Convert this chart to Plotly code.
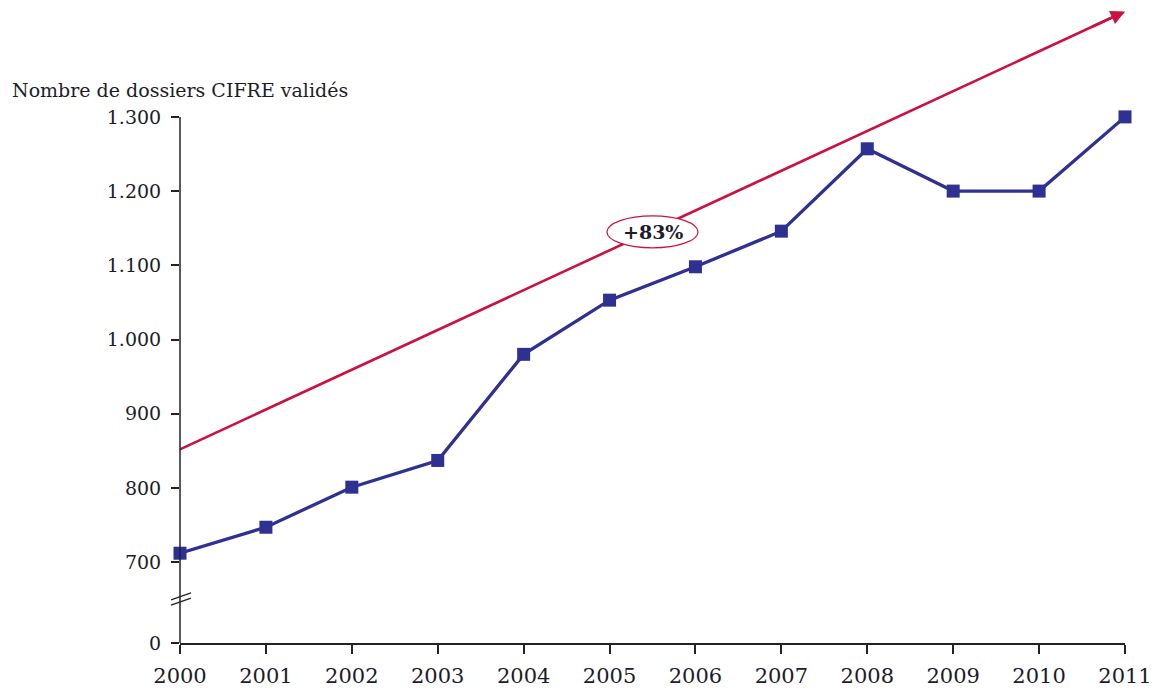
import plotly.graph_objects as go

# ---- data ----
years = [2000, 2001, 2002, 2003, 2004, 2005, 2006, 2007, 2008, 2009, 2010, 2011]
dossiers = [712, 747, 801, 837, 980, 1053, 1098, 1146, 1257, 1200, 1200, 1300]

trend_years = [2000, 2011]
trend_values = [852, 1442]
trend_label = "+83%"

y_title = "Nombre de dossiers CIFRE validés"
# broken axis: the "0" tick is drawn at a compressed position below 700
zero_display = 591
y_tickvals = [zero_display, 700, 800, 900, 1000, 1100, 1200, 1300]
y_ticktext = ["0", "700", "800", "900", "1.000", "1.100", "1.200", "1.300"]

BLUE = "#2e3192"
RED = "#cc1040"
TXT = "#1c1c2a"
FONT = "DejaVu Serif"

PLOT_W = 945  # pixel width of plotting area

fig = go.Figure()

fig.add_trace(go.Scatter(
    x=trend_years, y=trend_values, mode="lines",
    line=dict(color=RED, width=2.6), hoverinfo="skip", cliponaxis=False,
))
fig.add_trace(go.Scatter(
    x=years, y=dossiers, mode="lines+markers",
    line=dict(color=BLUE, width=3.3),
    marker=dict(symbol="square", size=13, color=BLUE),
    cliponaxis=False,
))

# arrow head at end of trend line
dx = 0.4
slope = (trend_values[1] - trend_values[0]) / (trend_years[1] - trend_years[0])
fig.add_annotation(
    x=trend_years[1], y=trend_values[1],
    ax=trend_years[1] - dx, ay=trend_values[1] - slope * dx,
    xref="x", yref="y", axref="x", ayref="y",
    showarrow=True, arrowhead=2, arrowsize=1.1, arrowwidth=2.6, arrowcolor=RED, text="",
)

# ellipse with label on trend line
cx, half_w, half_h = 2005.5, 0.53, 21.5
cy = trend_values[0] + slope * (cx - trend_years[0]) - 2
fig.add_shape(type="circle", xref="x", yref="y",
              x0=cx - half_w, x1=cx + half_w, y0=cy - half_h, y1=cy + half_h,
              line=dict(color=RED, width=1.2), fillcolor="white", layer="above")
fig.add_annotation(x=cx, y=cy, xref="x", yref="y", text="<b>" + trend_label + "</b>",
                   showarrow=False, font=dict(family=FONT, size=19, color=TXT))

# y axis line (only up to 1.300)
fig.add_shape(type="line", xref="paper", yref="y", x0=0, x1=0,
              y0=zero_display, y1=y_tickvals[-1], line=dict(color="#222", width=1.5))
# axis break marks
for off in (0, -7):
    fig.add_shape(type="line", xref="paper", yref="y",
                  x0=-9 / PLOT_W, x1=11 / PLOT_W,
                  y0=649 + off, y1=658.5 + off, line=dict(color="#222", width=1.3))

# y title
fig.add_annotation(x=-170 / PLOT_W, y=1300 + 36, xref="paper", yref="y",
                   yanchor="middle", xanchor="left",
                   text=y_title, showarrow=False,
                   font=dict(family=FONT, size=19, color=TXT))

fig.update_layout(
    width=1159, height=689,
    margin=dict(l=172, r=42, t=5, b=54),
    paper_bgcolor="white", plot_bgcolor="white",
    showlegend=False,
    xaxis=dict(
        range=[2000, 2011], tickvals=years, ticktext=[str(y) for y in years],
        showgrid=False, zeroline=False, showline=True, linecolor="#222", linewidth=1.5,
        ticks="outside", ticklen=9, tickwidth=1.5, tickcolor="#222",
        tickfont=dict(family=FONT, size=21, color=TXT), ticklabelstandoff=4,
    ),
    yaxis=dict(
        range=[zero_display, 1440], tickvals=y_tickvals, ticktext=y_ticktext,
        showgrid=False, zeroline=False, showline=False,
        ticks="outside", ticklen=8, tickwidth=1.5, tickcolor="#222",
        tickfont=dict(family=FONT, size=19, color=TXT), ticklabelstandoff=6,
    ),
)

fig.write_html("out.html")
